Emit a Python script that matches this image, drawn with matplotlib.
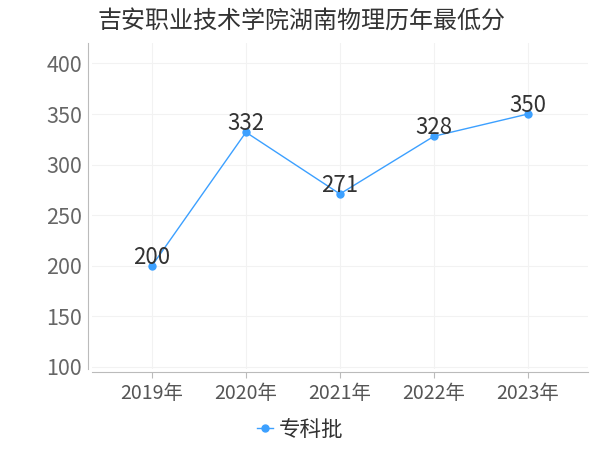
import matplotlib
matplotlib.use("Agg")
import matplotlib.pyplot as plt

plt.rcParams['font.family'] = ['Noto Sans CJK SC', 'DejaVu Sans']

years = ["2019年", "2020年", "2021年", "2022年", "2023年"]
scores = [200, 332, 271, 328, 350]
series_name = "专科批"
title = "吉安职业技术学院湖南物理历年最低分"
yticks = [100, 150, 200, 250, 300, 350, 400]

line_color = "#3ca0ff"

fig = plt.figure(figsize=(6, 4.5), dpi=100)
ax = fig.add_axes([0.153, 0.18, 0.827, 0.724])

x = list(range(len(years)))
ax.plot(x, scores, color=line_color, linewidth=1, marker="o", markersize=5,
        label=series_name)
for xi, yi in zip(x, scores):
    ax.annotate(str(yi), (xi, yi), xytext=(0, -2), textcoords="offset points",
                ha="center", va="bottom", fontsize=16, color="#333333")

ax.set_xlim(-0.64, 4.64)
ax.set_ylim(98, 420)
ax.set_xticks(x)
ax.set_xticklabels(years)
ax.set_yticks(yticks)
ax.tick_params(axis="x", labelsize=14, colors="#555555", length=4, color="#bbbbbb", pad=4)
ax.tick_params(axis="y", labelsize=15.5, colors="#666666", length=0, pad=4)

ax.grid(True, color="#f2f2f2", linewidth=0.8)
ax.set_axisbelow(True)
for s in ["top", "right"]:
    ax.spines[s].set_visible(False)
ax.spines["left"].set_color("#bbbbbb")
ax.spines["bottom"].set_color("#bbbbbb")
ax.spines["left"].set_position(("outward", 3))
ax.spines["bottom"].set_position(("outward", 2))

fig.text(0.162, 0.955, title, fontsize=17.3, color="#333333", ha="left", va="center")

leg = fig.legend(loc="center", bbox_to_anchor=(0.5, 0.045), frameon=False,
                 fontsize=15.5, handlelength=0.75, handletextpad=0.25)
for t in leg.get_texts():
    t.set_color("#333333")

fig.savefig("out.png", dpi=100)
